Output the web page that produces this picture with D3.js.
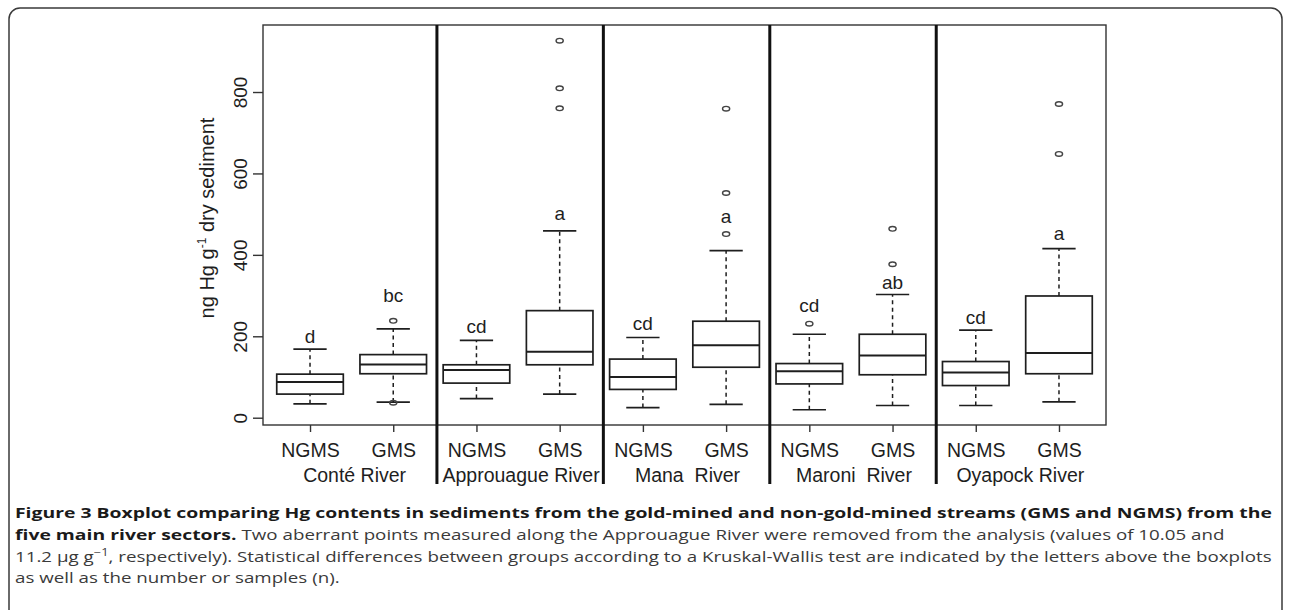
<!DOCTYPE html>
<html>
<head>
<meta charset="utf-8">
<script src="https://cdn.jsdelivr.net/npm/d3@7"></script>
<style>
  html, body { margin: 0; padding: 0; background: #fff; }
  svg { display: block; }
</style>
</head>
<body>
<svg id="chart" width="1290" height="610"></svg>
<script>
// ---------------- DATA ----------------
const categories = ["NGMS","GMS","NGMS","GMS","NGMS","GMS","NGMS","GMS","NGMS","GMS"];
const rivers = ["Conté River","Approuague River","Mana  River","Maroni  River","Oyapock River"];
const whiskerLow  = [34, 38.5, 47, 58, 25, 33, 19.6, 30, 30, 39];
const q1          = [58, 108, 85, 130, 69.5, 124, 83, 105.5, 79, 108];
const median      = [88, 131, 117, 162, 100, 178, 114, 153, 111, 159];
const q3          = [107, 155, 130, 263, 144, 237, 133, 205, 138, 299];
const whiskerHigh = [168.5, 218, 190, 459, 197, 410.6, 205, 302.6, 215, 415.5];
const outliers    = [[], [238, 37], [], [926, 809, 760], [], [759, 552, 451], [231], [464, 377], [], [770.6, 648]];
const letters     = ["d","bc","cd","a","cd","a","cd","ab","cd","a"];
const letterAt    = [184, 285, 209, 486, 216, 478, 260, 317, 231, 437];
const yTicks      = [0, 200, 400, 600, 800];
const yTitle      = ["ng Hg g", "-1", " dry sediment"];
const captionLines = [
  [{t:"Figure 3 Boxplot comparing Hg contents in sediments from the gold-mined and non-gold-mined streams (GMS and NGMS) from the", b:true}],
  [{t:"five main river sectors.", b:true}, {t:" Two aberrant points measured along the Approuague River were removed from the analysis (values of 10.05 and", b:false}],
  [{t:"11.2 µg g", b:false}, {t:"−1", b:false, sup:true}, {t:", respectively). Statistical differences between groups according to a Kruskal-Wallis test are indicated by the letters above the boxplots", b:false}],
  [{t:"as well as the number or samples (n).", b:false}]
];

// ---------------- LAYOUT ----------------
const svg = d3.select("#chart");
const plot = {left: 263, right: 1106, top: 25, bottom: 425};
const n = categories.length;
const x = d3.scaleLinear().domain([1 - 0.565, n + 0.565]).range([plot.left, plot.right]);
const y = d3.scaleLinear().domain([-17.9, 964.6]).range([plot.bottom, plot.top]);
const boxW = x(1.4) - x(1);     // half of boxwex 0.8
const capW = x(1.2) - x(1);     // half of staple
const ink = "#1e1e1e";
const chartFont = "'Liberation Sans', Arial, sans-serif";

// outer rounded frame
svg.append("rect")
  .attr("x", 9).attr("y", 8).attr("width", 1273).attr("height", 640)
  .attr("rx", 11).attr("ry", 11)
  .attr("fill", "none").attr("stroke", "#3a3a3a").attr("stroke-width", 1.5);

// plot frame
svg.append("rect")
  .attr("x", plot.left).attr("y", plot.top)
  .attr("width", plot.right - plot.left).attr("height", plot.bottom - plot.top)
  .attr("fill", "none").attr("stroke", "#333").attr("stroke-width", 1.4);

// y axis
const yAxis = d3.axisLeft(y).tickValues(yTicks).tickSize(10).tickFormat(d3.format("d"));
const gy = svg.append("g").attr("transform", `translate(${plot.left},0)`).call(yAxis);
gy.select(".domain").remove();
gy.selectAll(".tick line").attr("stroke", "#333").attr("stroke-width", 1.4);
gy.selectAll(".tick text").remove();
gy.selectAll(".tick").append("text")
  .attr("transform", "translate(-16,0) rotate(-90)")
  .attr("text-anchor", "middle")
  .attr("fill", ink)
  .style("font-family", chartFont).style("font-size", "19px")
  .text(d => d);

// y title
const yt = svg.append("text")
  .attr("transform", `translate(214,218) rotate(-90)`)
  .attr("text-anchor", "middle")
  .attr("fill", ink)
  .style("font-family", chartFont).style("font-size", "20px");
yt.append("tspan").text(yTitle[0]);
yt.append("tspan").attr("dy", -8).style("font-size", "12px").text(yTitle[1]);
yt.append("tspan").attr("dy", 8).text(yTitle[2]);

// x axis
const xAxis = d3.axisBottom(x).tickValues(d3.range(1, n + 1)).tickSize(7).tickFormat((d) => categories[d - 1]);
const gx = svg.append("g").attr("transform", `translate(0,${plot.bottom})`).call(xAxis);
gx.select(".domain").remove();
gx.selectAll(".tick line").attr("stroke", "#333").attr("stroke-width", 1.4);
gx.selectAll(".tick text")
  .attr("y", 32).attr("dy", null)
  .attr("fill", ink)
  .style("font-family", chartFont).style("font-size", "19.5px");

// river labels
svg.append("g").selectAll("text").data(rivers).join("text")
  .attr("x", (d, i) => x(2 * i + 1.5) + 3)
  .attr("y", 482)
  .attr("text-anchor", "middle")
  .attr("fill", ink)
  .attr("xml:space", "preserve")
  .style("white-space", "pre")
  .style("font-family", chartFont).style("font-size", "19.5px")
  .text(d => d);

// separators
svg.append("g").selectAll("line").data(d3.range(1, rivers.length)).join("line")
  .attr("x1", d => x(2 * d + 0.525)).attr("x2", d => x(2 * d + 0.525))
  .attr("y1", plot.top).attr("y2", 484)
  .attr("stroke", "#111").attr("stroke-width", 3);

// boxplots
const idx = d3.range(n);
const g = svg.append("g").attr("fill", "none").attr("stroke", ink).attr("stroke-width", 1.7);
idx.forEach(i => {
  const cx = x(i + 1);
  g.append("line").attr("x1", cx).attr("x2", cx).attr("y1", y(q3[i])).attr("y2", y(whiskerHigh[i]))
    .attr("stroke-dasharray", "4,3.5").attr("stroke-width", 1.5);
  g.append("line").attr("x1", cx).attr("x2", cx).attr("y1", y(whiskerLow[i])).attr("y2", y(q1[i]))
    .attr("stroke-dasharray", "4,3.5").attr("stroke-width", 1.5);
  g.append("line").attr("x1", cx - capW).attr("x2", cx + capW).attr("y1", y(whiskerHigh[i])).attr("y2", y(whiskerHigh[i]));
  g.append("line").attr("x1", cx - capW).attr("x2", cx + capW).attr("y1", y(whiskerLow[i])).attr("y2", y(whiskerLow[i]));
  g.append("rect").attr("x", cx - boxW).attr("width", 2 * boxW)
    .attr("y", y(q3[i])).attr("height", y(q1[i]) - y(q3[i])).attr("fill", "#fff");
  g.append("line").attr("x1", cx - boxW).attr("x2", cx + boxW).attr("y1", y(median[i])).attr("y2", y(median[i])).attr("stroke-width", 2);
  outliers[i].forEach(v => {
    g.append("ellipse").attr("cx", cx).attr("cy", y(v)).attr("rx", 3.6).attr("ry", 2.3)
      .attr("stroke", "#444").attr("stroke-width", 1.4);
  });
});

// significance letters
svg.append("g").selectAll("text").data(idx).join("text")
  .attr("x", i => x(i + 1))
  .attr("y", i => y(letterAt[i]))
  .attr("text-anchor", "middle")
  .attr("fill", ink)
  .style("font-family", chartFont).style("font-size", "19px")
  .text(i => letters[i]);

// caption: each part is its own text, bold and regular parts get their own horizontal scale
const capFont = "'Open Sans', 'Noto Sans', sans-serif";
const capX = 15, capBase = [518, 540, 562, 583];
const capG = svg.append("g");
const partNodes = captionLines.map(parts => parts.map(p => {
  const t = capG.append("text")
    .attr("xml:space", "preserve").style("white-space", "pre")
    .style("font-family", capFont)
    .style("font-size", p.sup ? "10px" : "14.5px")
    .style("font-weight", p.b ? 700 : 400)
    .attr("fill", p.b ? "#1a1a1a" : "#3a3a3a")
    .text(p.t);
  return {node: t, w: t.node().getComputedTextLength(), p};
}));
const sB = 1258 / d3.sum(partNodes[0], d => d.w);
const sR = 1257 / d3.sum(partNodes[2], d => d.w);
partNodes.forEach((parts, li) => {
  let cx = capX;
  parts.forEach(d => {
    const s = d.p.b ? sB : sR;
    const yy = capBase[li] - (d.p.sup ? 6 : 0);
    d.node.attr("transform", `translate(${cx},${yy}) scale(${s},1)`);
    cx += d.w * s;
  });
});
</script>
</body>
</html>
